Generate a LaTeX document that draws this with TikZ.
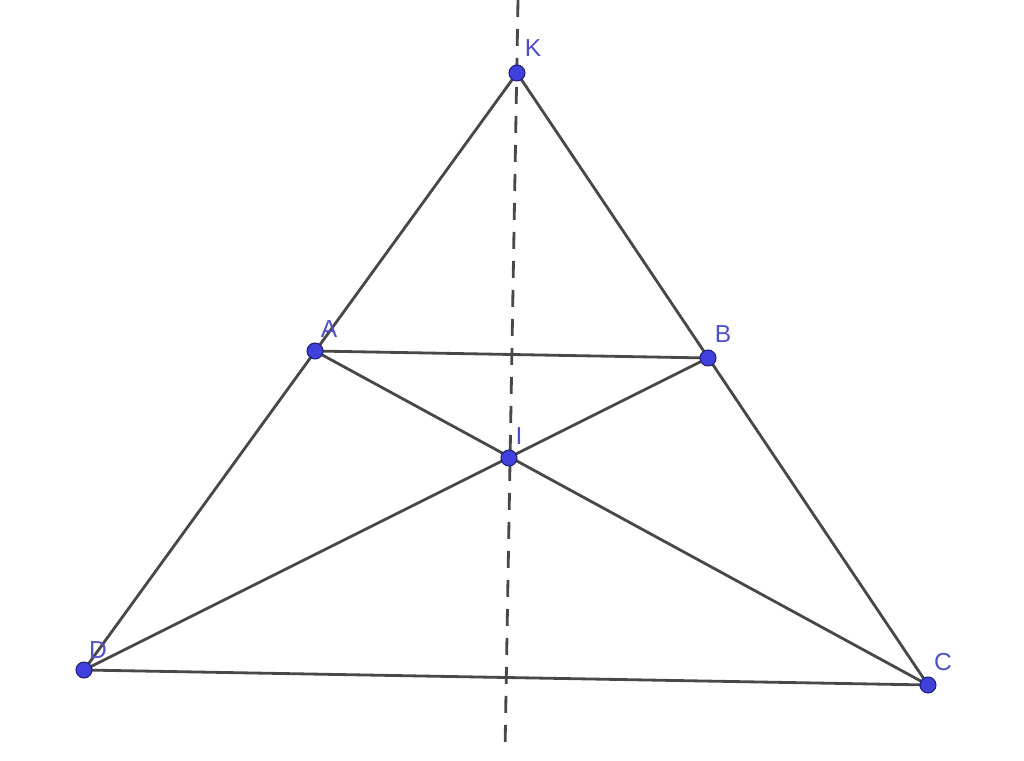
\documentclass[tikz,border=0pt]{standalone}
\usepackage{fontspec}
\setsansfont{Liberation Sans}
\usepackage{tikz}

\definecolor{segcol}{RGB}{72,72,72}
\definecolor{ptfill}{RGB}{64,64,220}
\definecolor{ptdraw}{RGB}{30,30,120}
\definecolor{lblcol}{RGB}{80,80,200}

\tikzset{
    seg/.style={color=segcol, line width=1.6pt},
    axis/.style={color=segcol, line width=1.6pt, dash pattern=on 0.34cm off 0.24cm},
    pt/.style={circle, fill=ptfill, draw=ptdraw, line width=0.6pt, inner sep=0pt, minimum size=0.32cm},
    lbl/.style={text=lblcol, font=\sffamily\fontsize{14}{16}\selectfont, inner sep=0pt}
}

\begin{document}
\begin{tikzpicture}
    \useasboundingbox (0,0) rectangle (20.48,15.2);

    % points of the figure
    \coordinate (K) at (10.34,13.74);
    \coordinate (A) at (6.30,8.18);
    \coordinate (B) at (14.16,8.04);
    \coordinate (I) at (10.18,6.04);
    \coordinate (D) at (1.68,1.80);
    \coordinate (C) at (18.56,1.50);

    % symmetry axis
    \coordinate (top) at (10.36,15.2);
    \coordinate (bot) at (10.10,0.16);
    \draw[axis] (top) -- (bot);

    \draw[seg] (K) -- (D);
    \draw[seg] (K) -- (C);
    \draw[seg] (D) -- (C);
    \draw[seg] (A) -- (B);
    \draw[seg] (A) -- (C);
    \draw[seg] (B) -- (D);

    \node[pt] (pK) at (K) {};
    \node[pt] (pA) at (A) {};
    \node[pt] (pB) at (B) {};
    \node[pt] (pI) at (I) {};
    \node[pt] (pD) at (D) {};
    \node[pt] (pC) at (C) {};

    \node[lbl] (lK) at (10.66,14.24) {K};
    \node[lbl] (lA) at (6.58,8.62) {A};
    \node[lbl] (lB) at (14.46,8.52) {B};
    \node[lbl] (lI) at (10.38,6.48) {I};
    \node[lbl] (lD) at (1.96,2.20) {D};
    \node[lbl] (lC) at (18.86,1.96) {C};
\end{tikzpicture}
\end{document}
